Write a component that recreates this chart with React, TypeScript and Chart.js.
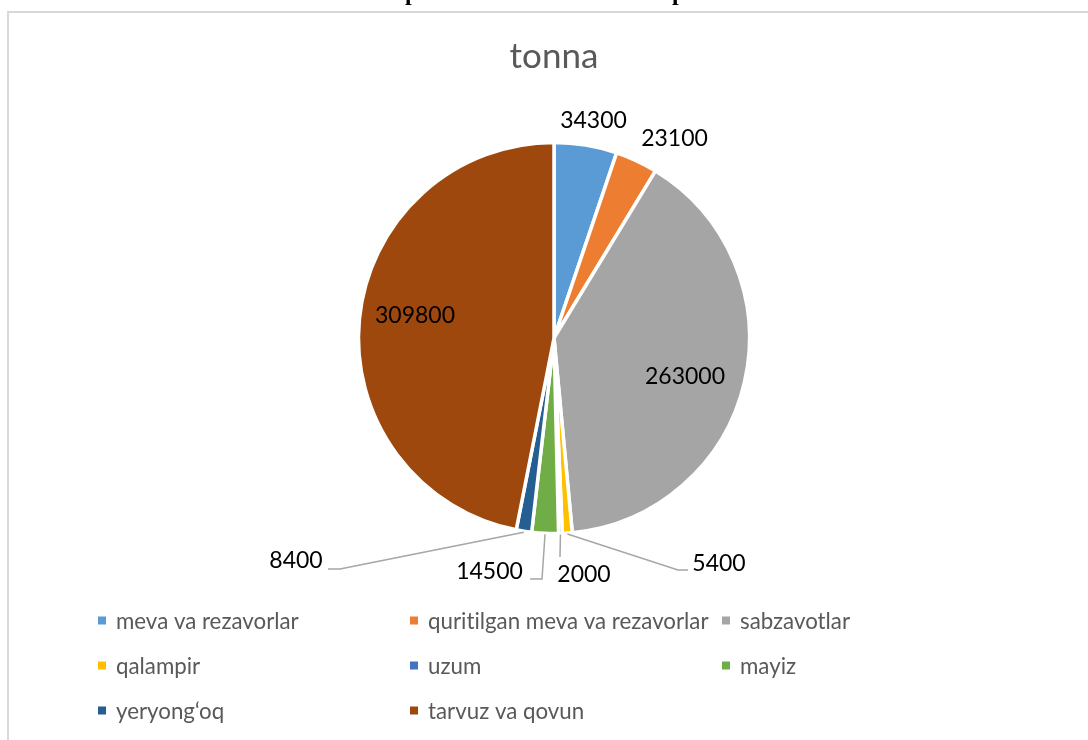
import React, { useEffect, useRef } from "react";
import { Chart, registerables } from "chart.js";

Chart.register(...registerables);

const chartTitle = "tonna";
const categories = [
  "meva va rezavorlar",
  "quritilgan meva va rezavorlar",
  "sabzavotlar",
  "qalampir",
  "uzum",
  "mayiz",
  "yeryong‘oq",
  "tarvuz va qovun",
];
const values = [34300, 23100, 263000, 5400, 2000, 14500, 8400, 309800];
const sliceColors = [
  "#5B9BD5",
  "#ED7D31",
  "#A5A5A5",
  "#FFC000",
  "#4472C4",
  "#70AD47",
  "#255E91",
  "#9E480E",
];

// label placement (offsets from the pie centre, px) – layout only
const labelLayout: any[] = [
  { text: [39.5, -217] },
  { text: [120.5, -199.5] },
  { text: [131, 39] },
  { text: [165, 226], elbow: [124, 232], end: [134, 232] },
  { text: [30, 237], elbow: [6, 219], end: [6, 219] },
  { text: [-64.5, 234], elbow: [-12, 241], end: [-24, 241] },
  { text: [-258, 223], elbow: [-214, 231], end: [-226, 231] },
  { text: [-139, -22] },
];

const FONT = "Lato, 'Open Sans', sans-serif";

const framePlugin = {
  id: "frame",
  beforeDraw(chart: any) {
    const ctx = chart.ctx;
    ctx.save();
    try {
      ctx.textRendering = "optimizeSpeed";
    } catch (e) {}
    ctx.fillStyle = "#ffffff";
    ctx.fillRect(0, 0, chart.width, chart.height);
    ctx.strokeStyle = "#d9d9d9";
    ctx.lineWidth = 2;
    ctx.beginPath();
    ctx.moveTo(8, chart.height);
    ctx.lineTo(8, 12);
    ctx.lineTo(chart.width, 12);
    ctx.stroke();
    // clipped text line of the surrounding document
    ctx.fillStyle = "#000";
    ctx.font = "bold 24px 'Liberation Serif', serif";
    ctx.textBaseline = "alphabetic";
    ctx.textAlign = "left";
    ctx.fillText("p", 405, 0);
    ctx.fillText("p", 672, 0);
    // title
    ctx.fillStyle = "#595959";
    ctx.font = `35px ${FONT}`;
    ctx.textAlign = "center";
    ctx.textBaseline = "middle";
    ctx.fillText(chartTitle, 554, 57);
    ctx.restore();
  },
};

const labelPlugin = {
  id: "pieLabels",
  afterDatasetsDraw(chart: any) {
    const ctx = chart.ctx;
    const meta = chart.getDatasetMeta(0);
    const ds = chart.data.datasets[0];
    ctx.save();
    try {
      ctx.textRendering = "optimizeSpeed";
    } catch (e) {}
    meta.data.forEach((arc: any, i: number) => {
      const { x, y, startAngle, endAngle, outerRadius } = arc.getProps(
        ["x", "y", "startAngle", "endAngle", "outerRadius"],
        true
      );
      const lay = labelLayout[i];
      const mid = (startAngle + endAngle) / 2;
      if (lay.elbow) {
        const r0 = outerRadius + 1;
        ctx.strokeStyle = "#a6a6a6";
        ctx.lineWidth = 1.5;
        ctx.beginPath();
        ctx.moveTo(x + Math.cos(mid) * r0, y + Math.sin(mid) * r0);
        ctx.lineTo(x + lay.elbow[0], y + lay.elbow[1]);
        ctx.lineTo(x + lay.end[0], y + lay.end[1]);
        ctx.stroke();
      }
      ctx.fillStyle = "#000000";
      ctx.font = `23px ${FONT}`;
      ctx.textAlign = "center";
      ctx.textBaseline = "middle";
      ctx.fillText(String(ds.data[i]), x + lay.text[0], y + lay.text[1]);
    });

    // legend: 3 columns
    const colX = [98, 410, 722];
    const rowY = [621, 666, 711];
    ctx.font = `22.3px ${FONT}`;
    ctx.textAlign = "left";
    ctx.textBaseline = "middle";
    chart.data.labels.forEach((lab: string, i: number) => {
      const cx = colX[i % 3];
      const cy = rowY[Math.floor(i / 3)];
      ctx.fillStyle = ds.backgroundColor[i];
      ctx.fillRect(cx, cy - 4.5, 8, 8);
      ctx.fillStyle = "#595959";
      ctx.fillText(lab, cx + 18, cy + 1);
    });
    ctx.restore();
  },
};

export default function App() {
  const ref = useRef<HTMLCanvasElement>(null);
  useEffect(() => {
    if (!ref.current) return;
    const chart = new Chart(ref.current, {
      type: "pie",
      data: {
        labels: categories,
        datasets: [
          {
            data: values,
            backgroundColor: sliceColors,
            borderColor: "#ffffff",
            borderWidth: 3.5,
          },
        ],
      },
      options: {
        animation: false,
        responsive: false,
        radius: 195.5,
        layout: { padding: { left: 20, right: 0, top: 100, bottom: 164 } },
        plugins: {
          legend: { display: false },
          title: { display: false },
          tooltip: { enabled: false },
        },
      },
      plugins: [framePlugin, labelPlugin],
    });
    return () => chart.destroy();
  }, []);
  return (
    <canvas
      ref={ref}
      width={1088}
      height={740}
      style={{ position: "fixed", left: 0, top: 0, width: 1088, height: 740 }}
    />
  );
}
